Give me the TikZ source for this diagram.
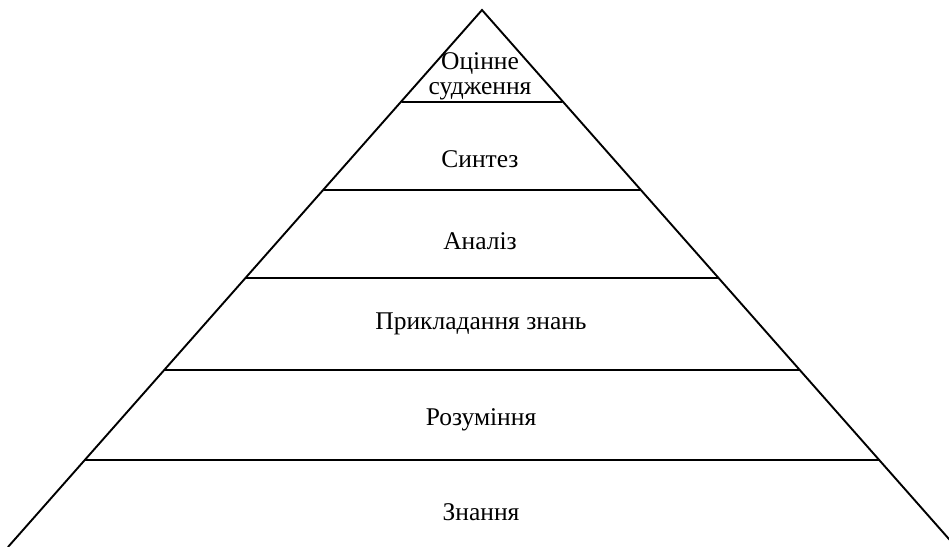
\documentclass[tikz,border=0pt]{standalone}
\usepackage{fontspec}
\setmainfont{Liberation Serif}
\begin{document}
\begin{tikzpicture}[x=1pt,y=-1pt,
  edge/.style={line width=1.9pt, line cap=round},
  lbl/.style={font=\fontsize{25.5}{25}\selectfont, inner sep=0pt, align=center}]
\useasboundingbox (0,0) rectangle (949,546);
\clip (0,0) rectangle (949,546);
\coordinate (apex) at (482,10);
\coordinate (bl) at (8,547);
\coordinate (br) at (956,547);
\draw[edge] (bl) -- (apex) -- (br);
\coordinate (l1) at (402,102); \coordinate (r1) at (562,102);
\coordinate (l2) at (324,190); \coordinate (r2) at (640,190);
\coordinate (l3) at (246,278); \coordinate (r3) at (718,278);
\coordinate (l4) at (165,370); \coordinate (r4) at (799,370);
\coordinate (l5) at (85,460);  \coordinate (r5) at (879,460);
\draw[edge] (l1) -- (r1);
\draw[edge] (l2) -- (r2);
\draw[edge] (l3) -- (r3);
\draw[edge] (l4) -- (r4);
\draw[edge] (l5) -- (r5);
\node[lbl] (t0) at (480,76) {Оцінне\\судження};
\node[lbl] (t1) at (480,159) {Синтез};
\node[lbl] (t2) at (480,241) {Аналіз};
\node[lbl] (t3) at (481,324) {Прикладання знань};
\node[lbl] (t4) at (481,420) {Розуміння};
\node[lbl] (t5) at (481,512) {Знання};
\end{tikzpicture}
\end{document}
